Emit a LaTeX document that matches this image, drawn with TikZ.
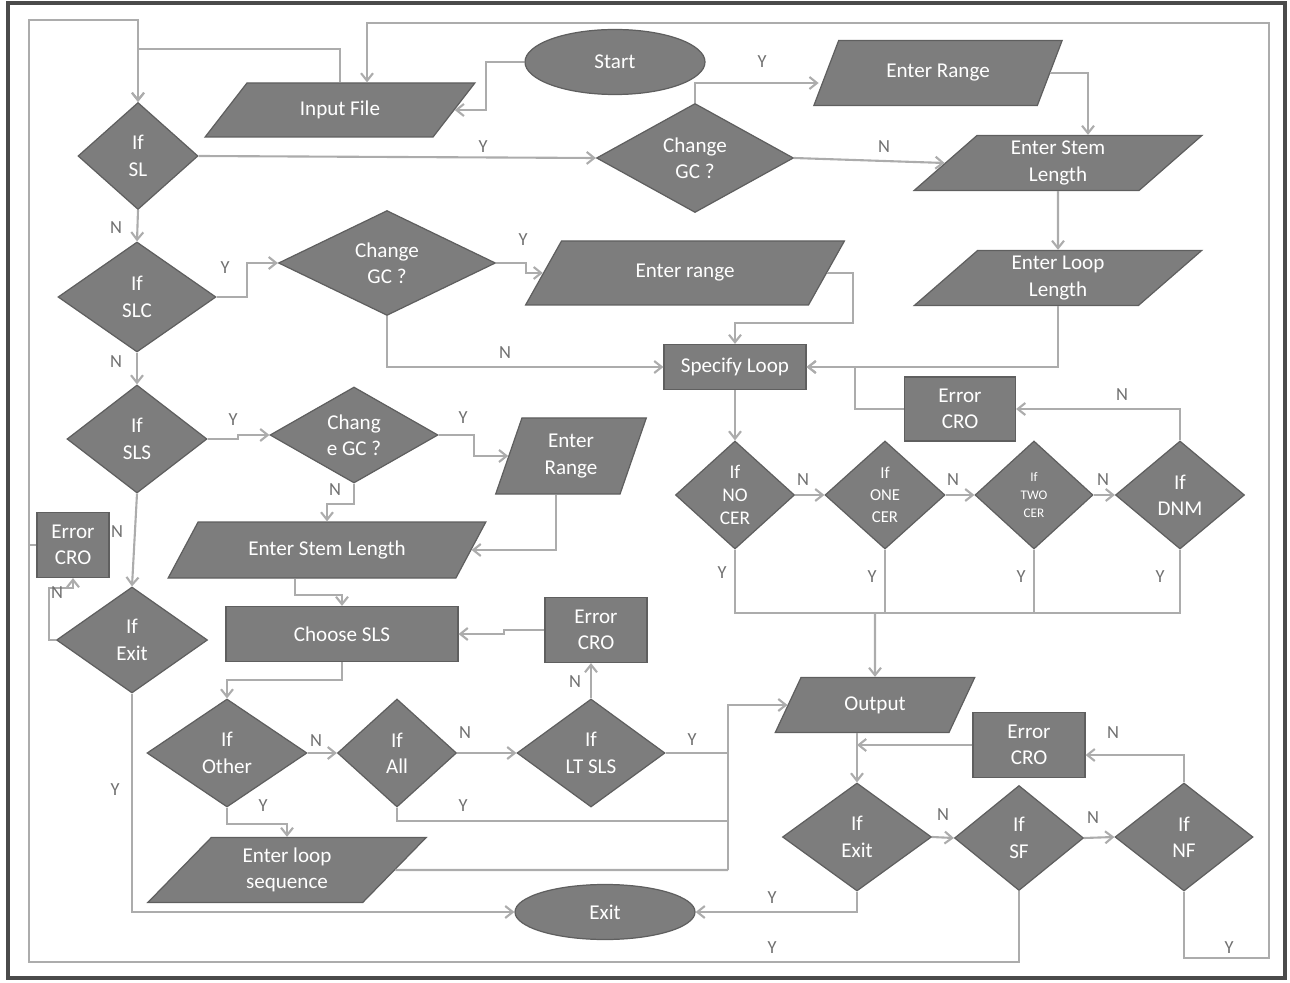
\documentclass[tikz,border=0pt]{standalone}
\usepackage{fontspec}
\setmainfont{Carlito}
\usepackage{tikz}
\usetikzlibrary{arrows.meta,shapes.geometric}
\definecolor{boxgray}{RGB}{125,125,125}
\definecolor{boxedge}{RGB}{95,95,95}
\definecolor{linegray}{RGB}{172,172,172}
\definecolor{lblgray}{RGB}{112,112,112}
\definecolor{framegray}{RGB}{75,75,75}

\begin{document}
\begin{tikzpicture}[x=0.2mm, y=-0.2mm,
    font=\fontsize{12}{15}\selectfont,
    wh/.style 2 args={minimum width=#1, minimum height=#2},
    base/.style={draw=boxedge, fill=boxgray, text=white, line width=0.7pt, inner sep=0pt, align=center},
    dec/.style={base, diamond},
    io/.style={base, trapezium, trapezium left angle=50, trapezium right angle=130, trapezium stretches=true},
    proc/.style={base, rectangle},
    term/.style={base, ellipse},
    conn/.style={draw=linegray, line width=1.2pt},
    arr/.style={conn, -{Straight Barb[length=1.5mm, width=2.4mm]}},
    lbl/.style={text=lblgray, font=\fontsize{10.5}{12}\selectfont, inner sep=0pt}]
    \useasboundingbox (0,0) rectangle (1290,983);
    % Cadre
    \draw[framegray, line width=2pt] (8,3) rectangle (1285,978);

    % Haut
    \node[term, wh={36mm}{13mm}] (start) at (615,62) {Start};
    \node[io, wh={54mm}{10.8mm}, trapezium left angle=45, trapezium right angle=135] (input) at (340,110) {Input File};
    \node[dec, wh={24mm}{21.4mm}] (ifsl) at (138,156) {If\\SL};
    \node[dec, wh={39.4mm}{21.8mm}] (gca) at (695,158) {Change\\GC ?};
    \node[io, wh={50mm}{13mm}, trapezium left angle=53, trapezium right angle=127] (rangea) at (938,73) {Enter Range};
    \node[io, wh={58mm}{11mm}] (stema) at (1058,163) {Enter Stem\\Length};
    \node[io, wh={58mm}{11mm}] (loopa) at (1058,278) {Enter Loop\\Length};

    % SLC
    \node[dec, wh={31.6mm}{22mm}] (ifslc) at (137,297) {If\\SLC};
    \node[dec, wh={43.4mm}{17.6mm}] (gcb) at (387,263) {Change\\GC ?};
    \node[io, wh={64mm}{12.8mm}] (rangeb) at (685,273) {Enter range};
    \node[proc, wh={28.4mm}{9mm}] (spec) at (735,367) {Specify Loop};
    \node[proc, wh={22.2mm}{12.8mm}] (erra) at (960,409) {Error\\CRO};

    % Tests CER
    \node[dec, wh={23.8mm}{21.6mm}, font=\fontsize{11}{13}\selectfont] (nocer) at (735,495) {If\\NO\\CER};
    \node[dec, wh={24mm}{21.6mm}, font=\fontsize{9.5}{12.5}\selectfont] (onecer) at (885,495) {If\\ONE\\CER};
    \node[dec, wh={23.6mm}{21.6mm}, font=\fontsize{7.5}{10.5}\selectfont] (twocer) at (1034,495) {If\\TWO\\CER};
    \node[dec, wh={25.8mm}{21.6mm}] (dnm) at (1180,495) {If\\DNM};

    % SLS
    \node[dec, wh={28mm}{21.6mm}] (ifsls) at (137,439) {If\\SLS};
    \node[dec, wh={33.6mm}{19.2mm}] (gcc) at (354,435) {Chang\\e GC ?};
    \node[io, wh={30.2mm}{15.2mm}, trapezium left angle=72, trapezium right angle=108] (rangec) at (571,456) {Enter\\Range};
    \node[proc, wh={14.4mm}{13mm}] (errl) at (73,545) {Error\\CRO};
    \node[io, wh={63.6mm}{11.2mm}, trapezium left angle=45, trapezium right angle=135] (stemb) at (327,550) {Enter Stem Length};
    \node[dec, wh={30.2mm}{21.2mm}] (exita) at (132,640) {If\\Exit};
    \node[proc, wh={46.4mm}{11mm}] (choose) at (342,634) {Choose SLS};
    \node[proc, wh={20.4mm}{13mm}] (errb) at (596,630) {Error\\CRO};
    \node[dec, wh={32mm}{21.6mm}] (other) at (227,753) {If\\Other};
    \node[dec, wh={23.8mm}{21.6mm}] (all) at (397,753) {If\\All};
    \node[dec, wh={29.6mm}{21.6mm}] (lt) at (591,753) {If\\LT SLS};
    \node[io, wh={56mm}{13mm}] (seq) at (287,870) {Enter loop\\sequence};

    % Bas droite
    \node[io, wh={40mm}{11mm}, trapezium left angle=58, trapezium right angle=122] (output) at (875,705) {Output};
    \node[proc, wh={22.4mm}{13mm}] (errc) at (1029,745) {Error\\CRO};
    \node[dec, wh={29.8mm}{21.6mm}] (exitb) at (857,837) {If\\Exit};
    \node[dec, wh={25.8mm}{21mm}] (ifsf) at (1019,838) {If\\SF};
    \node[dec, wh={27.6mm}{21.6mm}] (ifnf) at (1184,837) {If\\NF};
    \node[term, wh={36mm}{11mm}] (exitE) at (605,912) {Exit};

    \coordinate (lftline) at (29,20);
    \coordinate (ybus) at (875,612);
    \coordinate (vbar) at (728,870);

    % Liaisons du haut
    \draw[arr] (start.west) -- ++(-38,0) |- (input.east);
    \draw[arr] (input.north) -- ++(0,-33) -| (ifsl.north);
    \draw[arr] (ifsf.south) |- (29,962) -- (lftline) -| (ifsl.north);
    \draw[arr] (ifnf.south) |- (1269,958) -- (1269,23) -| ([xshift=5.4mm]input.north);
    \draw[arr] (ifsl.east) -- (gca.west);
    \draw[arr] (gca.north) |- ([shift={(-1.4mm,-2mm)}]rangea.west);
    \draw[arr] (gca.east) -- (stema.west);
    \draw[arr] (rangea.east) -| ([xshift=6mm]stema.north);
    \draw[arr] (stema.south) -- (loopa.north);
    \draw[arr] (loopa.south) |- (spec.east);

    % SLC
    \draw[arr] (ifsl.south) -- (ifslc.north);
    \draw[arr] (ifslc.east) -- ++(30,0) |- (gcb.west);
    \draw[arr] (gcb.east) -- ++(30,0) |- (rangeb.west);
    \draw[arr] (gcb.south) |- (spec.west);
    \draw[arr] (rangeb.east) -- ++(26,0) -- ++(0,50) -| (spec.north);

    % CER
    \draw[arr] (spec.south) -- (nocer.north);
    \draw[arr] (nocer.east) -- (onecer.west);
    \draw[arr] (onecer.east) -- (twocer.west);
    \draw[arr] (twocer.east) -- (dnm.west);
    \draw[arr] (dnm.north) |- (erra.east);
    \draw[arr] (erra.west) -- ++(-49,0) |- (spec.east);
    \draw[conn] (nocer.south) -- ++(0,63) -| (dnm.south);
    \draw[conn] (onecer.south) -- ++(0,63);
    \draw[conn] (twocer.south) -- ++(0,63);
    \draw[arr] (ybus) -- (output.north);

    % SLS
    \draw[arr] (ifslc.south) -- (ifsls.north);
    \draw[arr] (ifsls.east) -- ++(30,0) |- (gcc.west);
    \draw[arr] (gcc.east) -- ++(35,0) |- (rangec.west);
    \draw[arr] (gcc.south) -- ++(0,20) -| (stemb.north);
    \draw[arr] ([xshift=-3mm]rangec.south) |- (stemb.east);
    \draw[arr] ([xshift=-6.4mm]stemb.south) -- ++(0,16) -| (choose.north);
    \draw[arr] (errb.west) -- ++(-40,0) |- (choose.east);
    \draw[arr] (ifsls.south) -- (exita.north);
    \draw[arr] (exita.west) -- ++(-7,0) -- ++(0,-52) -| (errl.south);
    \draw[conn] (errl.west) -- (errl.west -| lftline);
    \draw[arr] (exita.south) |- (exitE.west);
    \draw[arr] (choose.south) -- ++(0,18) -| (other.north);
    \draw[arr] (other.east) -- (all.west);
    \draw[arr] (all.east) -- (lt.west);
    \draw[arr] (lt.north) -- (lt.north |- errb.south);
    \draw[conn] (lt.east) -- (lt.east -| vbar);
    \draw[arr] (vbar) |- (output.west);
    \draw[conn] (all.south) -- ++(0,13) -| (vbar);
    \draw[arr] (other.south) -- ++(0,16) -| (seq.north);
    \draw[conn] (seq.east) -- (vbar);

    % Sortie
    \draw[arr] (output.south -| exitb.north) -- (exitb.north);
    \draw[arr] (errc.west) -- (errc.west -| exitb.north);
    \draw[arr] (exitb.east) -- (ifsf.west);
    \draw[arr] (ifsf.east) -- (ifnf.west);
    \draw[arr] (ifnf.north) |- ([yshift=-2mm]errc.east);
    \draw[arr] (exitb.south) |- (exitE.east);

    % Etiquettes
    \foreach \t/\x/\y [count=\i] in {Y/483/147, Y/762/62, N/884/147, N/116/228, Y/225/268,
        Y/523/240, N/505/353, N/116/362, Y/233/420, Y/463/418, N/335/490, N/117/532,
        N/57/593, Y/115/790, N/316/741, N/465/733, Y/692/740, N/575/682, Y/263/806,
        Y/463/806, N/803/480, N/953/480, N/1103/480, N/1122/395, Y/722/573, Y/872/577,
        Y/1021/577, Y/1160/577, N/943/815, N/1093/818, N/1113/733, Y/772/898,
        Y/772/948, Y/1229/948}
        \node[lbl] (lab\i) at (\x,\y) {\t};
\end{tikzpicture}
\end{document}
